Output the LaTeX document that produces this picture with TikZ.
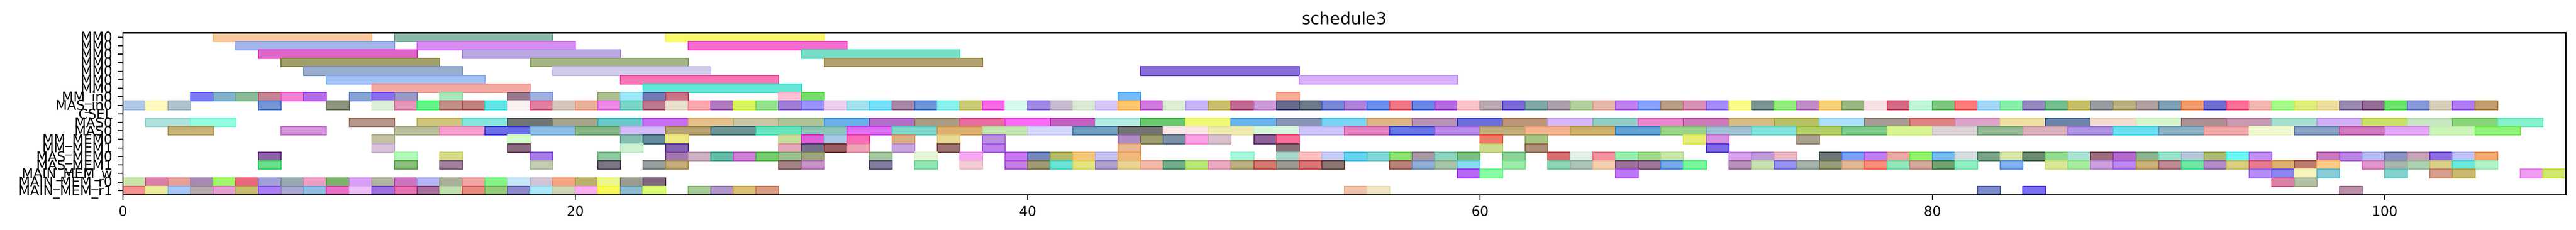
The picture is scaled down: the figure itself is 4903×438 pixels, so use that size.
\documentclass[tikz,border=0pt]{standalone}
\usepackage{fontspec}
\setmainfont{DejaVu Sans}
\tikzset{x=1pt,y=-1pt,
  ticklab/.style={font=\fontsize{25.5}{30}\selectfont,inner sep=0pt},
  axisline/.style={line width=2.5pt,black},
  tickline/.style={line width=2pt,black}}
\newcommand\bxfill[4]{\definecolor{bxc}{HTML}{#4}\fill[bxc] ({234+43.05*(#2)},{62.5+16.237*(#1)}) rectangle ({234+43.05*(#3)},{78.737+16.237*(#1)});}
\def\bxsplit#1,#2,#3\relax{%
  \pgfmathsetmacro\bxr{min(1,max(0,1.4*#1-0.4))}%
  \pgfmathsetmacro\bxg{min(1,max(0,1.4*#2-0.4))}%
  \pgfmathsetmacro\bxb{min(1,max(0,1.4*#3-0.4))}%
  \definecolor{bxe}{rgb}{\bxr,\bxg,\bxb}}
\newcommand\bxedge[4]{\convertcolorspec{HTML}{#4}{rgb}\bxtmpc\expandafter\bxsplit\bxtmpc\relax\draw[bxe,line width=2pt] ({234+43.05*(#2)},{62.5+16.237*(#1)}) rectangle ({234+43.05*(#3)},{78.737+16.237*(#1)});}
\newcommand\runw[4]{\foreach \bxc [count=\bxk from 0] in {#4}{\edef\bxdo{\noexpand\bx{#1}{#2+#3*\bxk}{#2+#3*\bxk+#3}{\bxc}}\bxdo}}
\newcommand\allbars{%
\runw{0}{4}{7}{F8C99C}\runw{0}{12}{7}{8AB8A8}\runw{0}{24}{7}{F9F96E}%
\runw{1}{5}{7}{A3B5E8}\runw{1}{13}{7}{D88EF0}\runw{1}{25}{7}{F56DD0}%
\runw{2}{6}{7}{DF66C8}\runw{2}{15}{7}{BBA8E0}\runw{2}{30}{7}{78DEC8}%
\runw{3}{7}{7}{A09E6A}\runw{3}{18}{7}{A4B486}\runw{3}{31}{7}{AFA270}%
\runw{4}{8}{7}{9AAECF}\runw{4}{19}{7}{D1CBEC}\runw{4}{45}{7}{876ED8}%
\runw{5}{9}{7}{A3C1F5}\runw{5}{22}{7}{F578B4}\runw{5}{52}{7}{D8B2FA}%
\runw{6}{11}{7}{F2AAA3}\runw{6}{23}{7}{66E6D6}%
\runw{7}{3}{1}{7B7CF5,84B1CC,8BBB98,C68495,F580D6,B46BE8}%
\runw{7}{10}{1}{89A5D6,8E6EF0,999BC6}\runw{7}{14}{1}{A6E6BB}\runw{7}{17}{1}{987A8C,9FB2E2}%
\runw{7}{21}{1}{AEC090,9EE8F8,6F7CB8,CB7287}\runw{7}{29}{1}{FEC0D0,78DE6C}\runw{7}{44}{1}{74BCFC}\runw{7}{51}{1}{F8AA94}%
\runw{8}{0}{1}{B3C9E7,FEF9BE,B2C3CB}\runw{8}{6}{1}{7496D6}\runw{8}{9}{1}{8D9580}%
\runw{8}{11}{1}{DDEFD9,E596B9,63F68A,C18F87,C38080,63E7E6,FCF1F2,E27EA0,D6C8BE}%
\runw{8}{20}{1}{EAB09A,EC88E6,7AD6C6,BC7890,ECE0D0,FCA8B0,B07AC0,DCF662,96E38E,A07ED8,9A92FA,ECD0EE,A4E2EE,78E0F8,A888A8,6A96D8,8CF2F0,CCCC78,F66AE6,D8FAEE}%
\runw{8}{40}{1}{9E88E6,C8BCD0,DCEAD4,D8C8FA,FEC870,D07ADE,DCEED4,C8B6FA,CCC070,C06890,CC9AD8,6A6A90,6C7888,7888D8,AE82DA,6A90EE,EE7888,6A88E6,B468E0,FCC4CC}%
\runw{8}{60}{1}{B8A8B0,7A6AD8,80A8A8,ACA0AC,B4D0A0,E8B8AC,C080F0,88A4FC,B89E88,D890B4,A48CF8,F8FC88,7C9494,94EE80,C28CCA,F6D278,9CB882,F6E2E6,D46A84,C0F8D8}%
\runw{8}{80}{1}{7CC880,FC7C7C,A4D8F8,88F0A8,9488C0,74BE90,C8C068,989CA0,B8B080,B0A0A0,80A0B4,F09A6C,6C6CCC,FC7098,F4B8B4,A8FC8C,E0F07C,F0E0A0,9A8AB0,926A92}%
\runw{8}{100}{1}{6CE46C,8898D8,D8D0BC,B07CF4,C4A070}%
\runw{10}{1}{2}{B0E1DF,95FCE0}\runw{10}{10}{2}{B7978D}%
\runw{10}{13}{2}{CFC57C,86E6DC,6F7572,A6A48C,6AC8C8,C86EF0,E4C08C,C8C6A6,AEC498,6CB0E8,B070C6,A89C84,E66EA0,FC6CF4,C460C0,B2EAE2,6CC870,F2F878,6CB4EC,8894B4,7AD4F2,DCB688,B894B4,6C70D8}%
\runw{10}{61}{2}{BC967C,D4B8F8,94CCC4,E888CC,CC7AB8,D6BC84,B8C068,AEE0FC,A89A94,DC8484,DCA4C8,F0E0A4,6C84A8,F0DCD0,D8F4CC,AC9094,C89AB4,A8E0D0,D0B0F4,C8E06C,C8E6C4,8CD47C,88F0CC}%
\runw{11}{2}{2}{C8B47B}\runw{11}{7}{2}{D493DA}%
\runw{11}{12}{2}{BBBF9C,F6A0CD,6C6DE8,8EBEE6,88B888,D4BCF8,B8A474,6E9496,68E6C0,8CC6B8,E070F6,7ED8CC,DEB070,C4E6B0,D4D8FC,72A0C0,727272,FAE6E6,EEEAB0,D8F6DC,CCC4FA,E684C4,6878E6,BC8AEC}%
\runw{11}{60}{2}{C2AE7C,F4B490,CFB06C,66A4D6,9AD488,A0C0D4,84E2DC,B4D068,80CC8C,D8F492,DCD4D8,94BC94,DCB0BC,B094E4,6CE0F0,8CB4C8,F0A8A8,F0F8D0,8CA4C8,D47CC0,E4A8F8,CCF4B8,90F478}%
\runw{12}{11}{1}{C3C2A5}\runw{12}{17}{1}{D5FDC8}\runw{12}{22}{1}{88BCB0,668A98,EEEA88}%
\runw{12}{29}{1}{C8DC9C,E060D8,A8C8E4,F86CB8}\runw{12}{34}{1}{DCAE84}\runw{12}{36}{1}{E8D894}\runw{12}{38}{1}{BC8EE4}%
\runw{12}{44}{1}{AE8AC4,9C9C70,7C90A4,FCA0E4,D8C0CC}\runw{12}{50}{1}{8E6498,FA6E98}\runw{12}{60}{1}{F07868}%
\runw{12}{62}{1}{A8C484}\runw{12}{69}{1}{E8EE74,D890E0}\runw{12}{74}{1}{AAA08C}%
\runw{13}{11}{1}{D8C2DC}\runw{13}{17}{1}{8C6B80}\runw{13}{22}{1}{CCF2D2}\runw{13}{24}{1}{8664B4}%
\runw{13}{29}{1}{E6A8B8,74708E,9A6060,F0A4B8}\runw{13}{34}{1}{C8A6E0}\runw{13}{36}{1}{9C7474}\runw{13}{38}{1}{C080F0}%
\runw{13}{44}{1}{EAB890}\runw{13}{51}{1}{887078}\runw{13}{60}{1}{CCDC8C}\runw{13}{62}{1}{B09078}\runw{13}{70}{1}{7E6AE8}%
\runw{14}{6}{1}{8D63A6}\runw{14}{12}{1}{B0FCB8}\runw{14}{14}{1}{D6DD8A}\runw{14}{18}{1}{A57AE8}\runw{14}{21}{1}{90CAA0}%
\runw{14}{24}{1}{A276B0,CCB0C4,64BCA8,D080D8,74CC6C,9CC090,9AA47E}\runw{14}{33}{1}{A4C8A0}\runw{14}{35}{1}{E8F6D8}\runw{14}{37}{1}{F8A8F4}%
\runw{14}{39}{1}{C878F4,7488BC,B6BC68,F8C87A,C4C4F4,F0B87C}\runw{14}{49}{1}{A8F6DC}%
\runw{14}{51}{1}{A6D8CC,FEC0C0,C8CEFA,64D4F0,84D8D8,8CE474,A898A4,8CD4C0,7CC080}\runw{14}{61}{1}{8CD498}%
\runw{14}{63}{1}{D67070,E4F0E8,F490A0,98F0B0,A0DC8C,C8E6A8}\runw{14}{71}{1}{D8A0F0,C09AD8,ECB8C4}%
\runw{14}{75}{1}{6C7878,7CA0F8,C07EF4,ECA8A4,90F46C,74BCF0,D4DCE0,78A488,D8E4A8,6C8C70,90DC90,ACE4D8,9A6C7C,B468CC,8CB490,98E6CC,B8C8DC,ACBC74,6CF8F8,C090F4}%
\runw{14}{97}{1}{C878BC,BC84E4,B4BCF4,8890C4,C8A4B8,8C6CE4,C0C4F8,F4A874}%
\runw{15}{6}{1}{67E08A}\runw{15}{12}{1}{8BBE7C}\runw{15}{14}{1}{A07F9C}\runw{15}{18}{1}{C2CDB3}\runw{15}{21}{1}{7C7484}%
\runw{15}{23}{1}{969E9E,C4AC78}\runw{15}{29}{1}{A08080,C890C8}\runw{15}{33}{1}{807C9C}\runw{15}{35}{1}{92E6B4}\runw{15}{37}{1}{F4CCD4}%
\runw{15}{39}{1}{C47EE4,A09870,68E4D4,E4E480,B0A0D0,E8D490,F6B8A8,70AC88,BAE878,ECA8C0,BCB080,D47870,9C9890,DA7474,8C7470}%
\runw{15}{56}{1}{B88078,8EAED4,A8C4A8,88D8F0}\runw{15}{61}{1}{9CECAA}%
\runw{15}{63}{1}{8CD4B4,ACC4B8,F4D0B0,9A6E96,9C7498,74A8E8,78FA9C}%
\runw{15}{71}{1}{B890B8,C8E2B0,9494F0,A4B4AC,989C78,E2B894,FC8C78,90E6B8,D4A89C,70A070,90F0C4}\runw{15}{83}{1}{80B0F0}%
\runw{15}{85}{1}{DCE898,A8ECA0,CCA0E0,BC88F0,CCB078,C08890,6CE8A4,B08CC8,D8D080,E87890,DCB06C,BC7C6C,FCCC88}%
\runw{15}{99}{1}{E494CC,A8B4B0,ACD0B0,DCD088,6CE8DC,B0F4C8}%
\runw{16}{59}{1}{B868F8,88FCA4}\runw{16}{66}{1}{BC78F4}\runw{16}{94}{1}{B48CF4,8C84F0,F8F4C0,88CCD8}\runw{16}{100}{1}{84D0CC}%
\runw{16}{102}{1}{D8A08C,C8B870}\runw{16}{106}{1}{F09CF4,D0E86C}%
\runw{17}{0}{1}{C8E3A8,DA80A8,E49F99,A68BB0,A2F46C,E6687A,A2A0D6,96AAAF,EB9EC5,7DB26C,D8A0F4,B0B4A0,CC73C0,B4B4F4,A8B09C,F0A4A4,84F288,C6E4F6,CEC4D6,F4A482,BAB06C,ECF88E,9C9C90,806880}%
\runw{17}{95}{1}{DC80A8,B4C0A4}%
\runw{18}{0}{1}{F49090,ECEE9E,A9C8FA,B6AAB0,E4A0CF,C8BC72,AA7EF4,A8A8D0,90BCE0,E670C4,ECC2F8,9B6FDE,E272B0,A86E9E,C4DFB0,E88A80,96C87C,8C88C8,ACE9FA,D0D6B8,FCB0F0,F9F95C,8CBACC,DCFC78}%
\runw{18}{25}{1}{A8CC98,B096C8,DCC078,D89C84}\runw{18}{54}{1}{F0C4AA,F2E6C8}\runw{18}{82}{1}{7C8CC8}\runw{18}{84}{1}{7A6EF0}\runw{18}{98}{1}{B890A8}%
}
\begin{document}
\begin{tikzpicture}
\fill[white] (0,0) rectangle (4903,438);
\useasboundingbox (0,0) rectangle (4903,438);
\let\bx\bxfill \allbars
\let\bx\bxedge \allbars
\draw[axisline] (234,62.5) rectangle (4883.4,371);
\foreach \i/\t in {0/MM0,1/MM0,2/MM0,3/MM0,4/MM0,5/MM0,6/MM0,7/MM\_in0,8/MAS\_in0,9/CSEL,10/MAS0,11/MAS0,12/MM\_MEM0,13/MM\_MEM1,14/MAS\_MEM0,15/MAS\_MEM1,16/MAIN\_MEM\_w,17/MAIN\_MEM\_r0,18/MAIN\_MEM\_r1}{
  \draw[tickline] (224,{70.62+16.237*\i}) -- (234,{70.62+16.237*\i});
  \node[ticklab,anchor=base east] (ylab\i) at (214,{79.9+16.237*\i}) {\t};
}
\foreach \k in {0,1,2,3,4,5}{
  \pgfmathtruncatemacro\v{20*\k}
  \draw[tickline] ({234+861*\k},371) -- ({234+861*\k},381);
  \node[ticklab,anchor=base] (xlab\k) at ({234+861*\k},411.5) {\v};
}
\node[font=\fontsize{31.5}{36}\selectfont,inner sep=0pt,anchor=base] (title) at (2558.7,46.5) {schedule3};
\end{tikzpicture}
\end{document}
